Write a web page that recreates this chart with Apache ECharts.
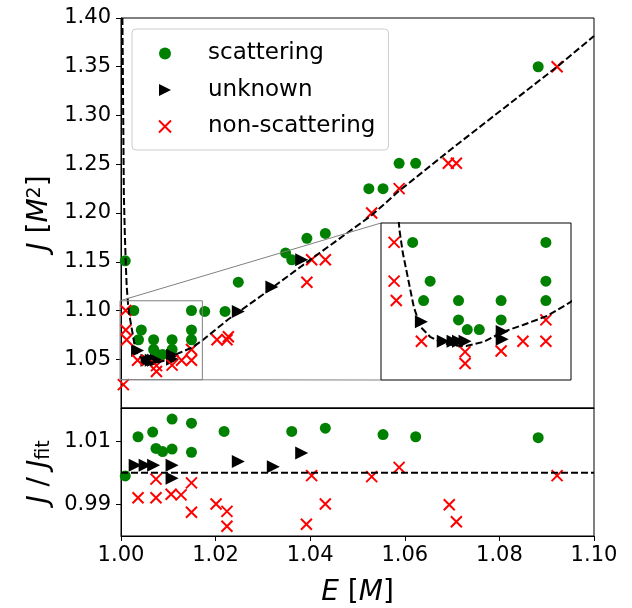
<!DOCTYPE html>
<html><head><meta charset="utf-8">
<script src="https://cdn.jsdelivr.net/npm/echarts@6/dist/echarts.min.js"></script>
<style>html,body{margin:0;padding:0;background:#fff}#c{width:632px;height:608px}</style>
</head><body><div id="c"></div>
<script>
// ---------- data ----------
const scatE = [1.0009,1.0027,1.0043,1.0037,1.0069,1.0069,1.0077,1.0088,1.0108,1.0108,1.0149,1.0149,1.0149,1.0177,1.0220,1.0248,1.0348,1.0361,1.0393,1.0432,1.0524,1.0554,1.0588,1.0623,1.0882];
const scatJ = [1.151,1.100,1.080,1.070,1.070,1.060,1.055,1.055,1.070,1.060,1.100,1.080,1.070,1.099,1.099,1.129,1.159,1.152,1.174,1.179,1.225,1.225,1.251,1.251,1.350];

const unkE = [1.0035,1.0055,1.0064,1.0069,1.0075,1.0109,1.0109,1.0248,1.0319,1.0382];
const unkJ = [1.059,1.049,1.049,1.049,1.049,1.054,1.050,1.099,1.124,1.152];

const nonE = [1.0005,1.0010,1.0010,1.0012,1.0035,1.0075,1.0075,1.0108,1.0128,1.0149,1.0149,1.0203,1.0224,1.0227,1.0393,1.0403,1.0432,1.0530,1.0588,1.0692,1.0709,1.0922];
const nonJ = [1.024,1.100,1.080,1.070,1.049,1.0435,1.0375,1.044,1.049,1.049,1.060,1.070,1.070,1.073,1.129,1.152,1.152,1.200,1.225,1.251,1.251,1.350];

const fitE = [1.0003,1.0004,1.0005,1.0006,1.0008,1.0010,1.0012,1.0015,1.0018,1.0023,1.0028,1.0034,1.0043,1.0055,1.0066,1.0076,1.0092,1.0110,1.0128,1.0150,1.0171,1.0227,1.0298,1.0368,1.0438,1.0530,1.0588,1.0700,1.0922,1.1000];
const fitJ = [1.40,1.34,1.28,1.22,1.18,1.15,1.125,1.106,1.0945,1.0807,1.0668,1.0565,1.0513,1.0479,1.0468,1.0465,1.0487,1.0539,1.0574,1.0620,1.0690,1.0910,1.1156,1.1406,1.1654,1.1977,1.2227,1.2662,1.3500,1.3815];

const resScatE = [1.0009,1.0036,1.0067,1.0074,1.0088,1.0108,1.0108,1.0149,1.0149,1.0218,1.0361,1.0432,1.0554,1.0623,1.0882];
const resScatR = [0.9990,1.0114,1.0129,1.0077,1.0067,1.0170,1.0075,1.0157,1.0065,1.0131,1.0131,1.0141,1.0121,1.0114,1.0111];

const resUnkE = [1.0030,1.0051,1.0069,1.0108,1.0108,1.0248,1.0322,1.0382];
const resUnkR = [1.0024,1.0024,1.0024,1.0024,0.9983,1.0036,1.0019,1.0063];

const resNonE = [1.0036,1.0074,1.0074,1.0106,1.0127,1.0149,1.0149,1.0201,1.0224,1.0224,1.0392,1.0403,1.0432,1.0530,1.0588,1.0694,1.0709,1.0922];
const resNonR = [0.9921,0.9980,0.9921,0.9932,0.9930,0.9968,0.9875,0.9901,0.9878,0.9831,0.9837,0.9991,0.9901,0.9988,1.0017,0.9899,0.9845,0.9991];

const resLineE = [1.00, 1.10];
const resLineR = [1.00, 1.00];

const xTicks = [1.00,1.02,1.04,1.06,1.08,1.10];
const mainYTicks = [1.05,1.10,1.15,1.20,1.25,1.30,1.35,1.40];
const resYTicks = [0.99,1.01];

const xRange = [1.00, 1.10];
const mainYRange = [1.00, 1.40];
const resYRange = [0.98, 1.0205];
const insetXRange = [0.9998, 1.0172];
const insetYRange = [1.029, 1.110];

// ---------- chart ----------
const FONT = 'DejaVu Sans';
const pairs = (a, b) => a.map((v, i) => [v, b[i]]);
const triPath = 'path://M0,0L10,5L0,10Z';
const xPath = 'path://M0,0L10,10M10,0L0,10';

function scat(name, kind, data, xi, yi, z) {
  const s = {name, type: 'scatter', xAxisIndex: xi, yAxisIndex: yi, data, z, animation: false};
  if (kind === 's') { s.symbol = 'circle'; s.symbolSize = 11; s.itemStyle = {color: '#008000', opacity: 1}; }
  if (kind === 'u') { s.symbol = triPath; s.symbolSize = [13, 13]; s.itemStyle = {color: '#000000', opacity: 1}; }
  if (kind === 'n') { s.symbol = xPath; s.symbolSize = 11; s.itemStyle = {color: 'rgba(0,0,0,0)', borderColor: '#ff0000', borderWidth: 2, opacity: 1}; }
  return s;
}
function dashed(data, xi, yi, z) {
  return {type: 'line', xAxisIndex: xi, yAxisIndex: yi, data, showSymbol: false, symbol: 'none', z, animation: false,
    lineStyle: {color: '#000', width: 2, type: [7, 3]}, silent: true};
}

const tickStyle = {show: true, length: 5, lineStyle: {color: '#000', width: 1}};
const labStyle = {color: '#000', fontSize: 21, fontFamily: FONT};
const rich = {
  i: {fontStyle: 'italic', fontSize: 28, fontFamily: FONT, color: '#000'},
  sup: {fontSize: 19, fontFamily: FONT, color: '#000', verticalAlign: 'top', lineHeight: 19},
  sub: {fontSize: 19, fontFamily: FONT, color: '#000', verticalAlign: 'bottom', lineHeight: 19}
};

const chart = echarts.init(document.getElementById('c'), null, {renderer: 'canvas'});
const option = {
  animation: false,
  textStyle: {fontFamily: FONT},
  grid: [
    {left: 121, top: 18, width: 473, height: 390, show: true, borderColor: '#000', borderWidth: 1, backgroundColor: 'transparent'},
    {left: 121, top: 408, width: 473, height: 132, show: true, borderColor: '#000', borderWidth: 1, backgroundColor: 'transparent'},
    {left: 381, top: 223, width: 190, height: 157, show: true, borderColor: '#000', borderWidth: 1, backgroundColor: '#fff', z: 10}
  ],
  legend: {
    orient: 'vertical', left: 132, top: 29,
    padding: [11, 13, 10, 26], itemGap: 9.5, itemWidth: 12, itemHeight: 12,
    borderColor: '#cccccc', borderWidth: 1, borderRadius: 4, backgroundColor: 'rgba(255,255,255,0.8)',
    textStyle: {fontSize: 23, color: '#000', fontFamily: FONT, padding: [0, 0, 0, 32], lineHeight: 27},
    data: ['scattering', 'unknown', 'non-scattering']
  },
  xAxis: [
    {gridIndex: 0, type: 'value', min: xRange[0], max: xRange[1], interval: 0.02,
      axisLine: {show: true, lineStyle: {color: '#000'}}, axisTick: {show: false}, axisLabel: {show: false}, splitLine: {show: false}},
    {gridIndex: 1, type: 'value', min: xRange[0], max: xRange[1], interval: 0.02,
      axisLine: {show: true, lineStyle: {color: '#000'}}, axisTick: tickStyle,
      axisLabel: Object.assign({margin: 9, formatter: v => v.toFixed(2), customValues: xTicks}, labStyle),
      splitLine: {show: false},
      name: '{i|E} [{i|M}]', nameLocation: 'middle', nameGap: 43,
      nameTextStyle: {fontSize: 28, color: '#000', fontFamily: FONT, rich}},
    {gridIndex: 2, type: 'value', min: insetXRange[0], max: insetXRange[1],
      axisLine: {show: false}, axisTick: {show: false}, axisLabel: {show: false}, splitLine: {show: false}}
  ],
  yAxis: [
    {gridIndex: 0, type: 'value', min: mainYRange[0], max: mainYRange[1], interval: 0.05,
      axisLine: {show: true, lineStyle: {color: '#000'}},
      axisTick: Object.assign({customValues: mainYTicks}, tickStyle),
      axisLabel: Object.assign({margin: 10, formatter: v => v.toFixed(2), customValues: mainYTicks, showMaxLabel: true}, labStyle),
      splitLine: {show: false},
      name: '{i|J} [{i|M}{sup|2}]', nameLocation: 'middle', nameGap: 66, nameRotate: 90,
      nameTextStyle: {fontSize: 28, color: '#000', fontFamily: FONT, rich}},
    {gridIndex: 1, type: 'value', min: resYRange[0], max: resYRange[1],
      axisLine: {show: true, lineStyle: {color: '#000'}},
      axisTick: Object.assign({customValues: resYTicks}, tickStyle),
      axisLabel: Object.assign({margin: 10, formatter: v => v.toFixed(2), customValues: resYTicks}, labStyle),
      splitLine: {show: false},
      name: '{i|J} / {i|J}{sub|fit}', nameLocation: 'middle', nameGap: 66, nameRotate: 90,
      nameTextStyle: {fontSize: 28, color: '#000', fontFamily: FONT, rich}},
    {gridIndex: 2, type: 'value', min: insetYRange[0], max: insetYRange[1],
      axisLine: {show: false}, axisTick: {show: false}, axisLabel: {show: false}, splitLine: {show: false}}
  ],
  series: [
    scat('scattering', 's', pairs(scatE, scatJ), 0, 0, 3),
    scat('unknown', 'u', pairs(unkE, unkJ), 0, 0, 3),
    scat('non-scattering', 'n', pairs(nonE, nonJ), 0, 0, 3),
    dashed(pairs(fitE, fitJ), 0, 0, 4),

    scat('scattering', 's', pairs(resScatE, resScatR), 1, 1, 3),
    scat('unknown', 'u', pairs(resUnkE, resUnkR), 1, 1, 3),
    scat('non-scattering', 'n', pairs(resNonE, resNonR), 1, 1, 3),
    dashed(pairs(resLineE, resLineR), 1, 1, 4),

    scat('scattering', 's', pairs(scatE, scatJ), 2, 2, 12),
    scat('unknown', 'u', pairs(unkE, unkJ), 2, 2, 12),
    scat('non-scattering', 'n', pairs(nonE, nonJ), 2, 2, 12),
    dashed(pairs(fitE, fitJ), 2, 2, 13)
  ]
};
chart.setOption(option);

// inset indicator rectangle and connectors, positioned through the axes
const P = (g, x, y) => chart.convertToPixel({gridIndex: g}, [x, y]);
const rTL = P(0, insetXRange[0], insetYRange[1]);
const rBR = P(0, insetXRange[1], insetYRange[0]);
const rBL = P(0, insetXRange[0], insetYRange[0]);
const iTL = P(2, insetXRange[0], insetYRange[1]);
const iBL = P(2, insetXRange[0], insetYRange[0]);
const gray = {stroke: '#808080', lineWidth: 1, fill: null};
chart.setOption({graphic: [
  {type: 'rect', z: 9, shape: {x: rTL[0], y: rTL[1], width: rBR[0] - rTL[0], height: rBR[1] - rTL[1]}, style: gray, silent: true},
  {type: 'line', z: 9, shape: {x1: rTL[0], y1: rTL[1], x2: iTL[0], y2: iTL[1]}, style: gray, silent: true},
  {type: 'line', z: 9, shape: {x1: rBL[0], y1: rBL[1], x2: iBL[0], y2: iBL[1]}, style: gray, silent: true}
]});
</script>
</body></html>
